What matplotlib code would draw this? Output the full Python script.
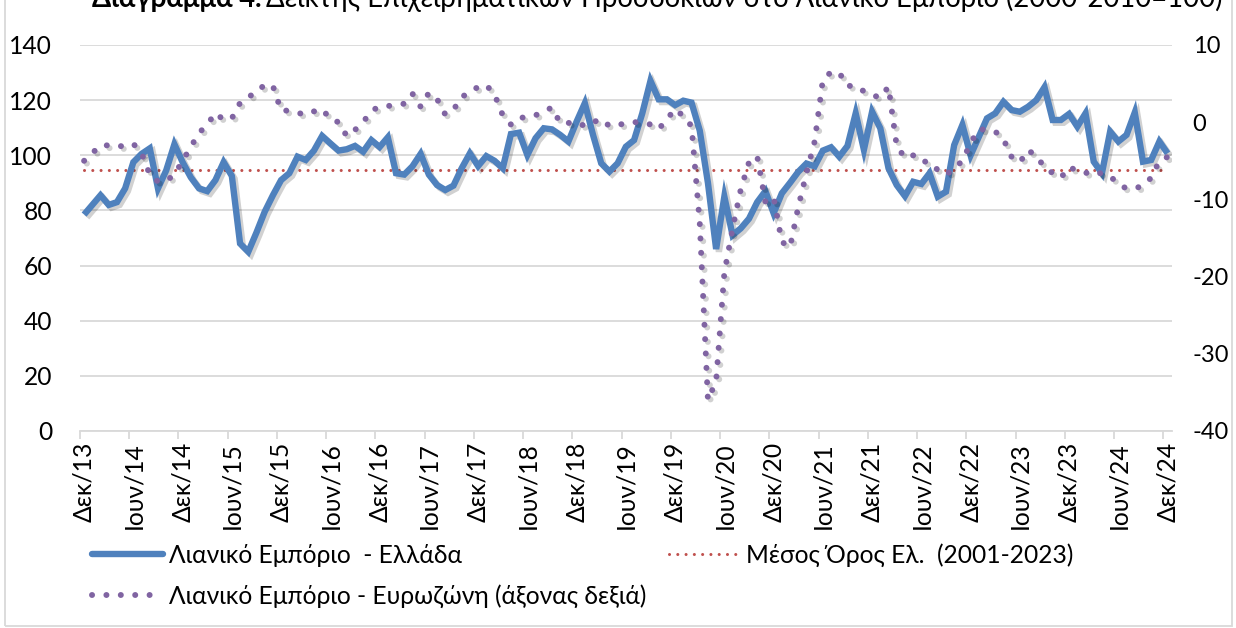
import numpy as np
import matplotlib
matplotlib.use("Agg")
import matplotlib.pyplot as plt
import matplotlib.patheffects as pe
from matplotlib.lines import Line2D
from matplotlib.patches import Rectangle

plt.rcParams['font.family'] = ['Lato', 'DejaVu Sans']

# Greek retail trade confidence (left axis), monthly Dec 2013 - Dec 2024
greece = [78.5, 82, 85.5, 82, 83, 88, 97.5, 100.5, 102.5, 88, 94.5, 104, 97.5,
          92, 88, 87, 91, 97.5, 92.5, 68, 65, 72, 79.5, 85.5, 91,
          93.5, 99.5, 98.3, 101.7, 107, 104.3, 101.7, 102.2, 103.4, 101.3, 105.5, 103,
          106.5, 93.5, 93, 96, 100.5, 93, 89.2, 87.4, 89, 95.3, 100.7, 96.1,
          99.7, 98, 95.3, 107.7, 108.2, 100.1, 106.2, 109.8, 109.4, 107.4, 105, 112.2,
          118.9, 107.4, 97.1, 94.1, 97.1, 103.1, 105.5, 115.2, 127, 120.3, 120.3, 118.2,
          119.8, 119.1, 109, 90, 66, 85, 71, 73.5, 77, 83, 87, 79,
          86.2, 90, 94, 97, 96, 101.7, 102.9, 99.5, 103.4, 115.2, 102, 115.8,
          109.8, 95.3, 89.2, 85.2, 90.4, 89.6, 93.5, 85, 86.8, 103.7, 111, 100,
          106.7, 113.4, 115.2, 119.4, 116.4, 115.8, 117.6, 120, 124.7, 112.8, 112.8, 115,
          110.4, 115.2, 97.7, 93.5, 108.6, 105, 107.4, 115.5, 97.7, 98.3, 105, 100.7]

# Euro area retail trade confidence (right axis)
eurozone = [-5, -4, -3, -3, -3.2, -3, -2.8, -4, -6.8, -7.7, -7.6, -6.8, -5,
            -3.2, -1.4, -0.3, 1.2, 0.3, 0.5, 2.5, 3.3, 3.8, 4.9, 4.7, 1.5,
            1.5, 1.2, 1.0, 1.4, 1.7, 0.4, 0, -1.8, -1.0, 0, 1.5, 2.0,
            2.1, 2.2, 2.4, 3.7, 2.0, 3.8, 3.0, 1.0, 1.6, 3.3, 3.8, 4.6,
            4.8, 3.6, 0.9, -0.3, 0.6, 0.6, 0.9, 1.4, 1.9, -0.1, -0.1, 0,
            -0.5, 0, 0.4, -0.5, -0.4, -0.1, 0, 0, -0.3, -0.9, 0.4, 1.7,
            0.8, -0.5, -13, -36, -33.5, -19.5, -13.8, -8.7, -5.2, -4.4, -10.3, -9.7,
            -15.5, -16.2, -11, -6.6, -2.5, 5.5, 6.5, 6.4, 4.7, 4.7, 4.0, 3.5,
            3.2, 4.6, -3.1, -4.6, -4.3, -4.5, -5.8, -6.1, -6.8, -6.0, -5, -2.7,
            -0.9, -1.0, -1.2, -2.2, -4.5, -5.2, -3.6, -4.4, -5.8, -6.6, -7.2, -5.8,
            -6.3, -6.6, -6.3, -6.7, -7.0, -8.0, -8.6, -8.6, -8.2, -7.2, -5.0, -4.5]

greece_mean = 94.7  # Μέσος Όρος 2001-2023

tick_labels = ['Δεκ/13', 'Ιουν/14', 'Δεκ/14', 'Ιουν/15', 'Δεκ/15', 'Ιουν/16',
               'Δεκ/16', 'Ιουν/17', 'Δεκ/17', 'Ιουν/18', 'Δεκ/18', 'Ιουν/19',
               'Δεκ/19', 'Ιουν/20', 'Δεκ/20', 'Ιουν/21', 'Δεκ/21', 'Ιουν/22',
               'Δεκ/22', 'Ιουν/23', 'Δεκ/23', 'Ιουν/24', 'Δεκ/24']

lbl_gr = 'Λιανικό Εμπόριο  - Ελλάδα'
lbl_ez = 'Λιανικό Εμπόριο - Ευρωζώνη (άξονας δεξιά)'
lbl_mean = 'Μέσος Όρος Ελ.  (2001-2023)'

BLUE = '#4F81BD'
PURPLE = '#8064A2'
RED = '#C0504D'
GRID = '#D9D9D9'
FS = 17.7

W, H = 1236, 628
fig = plt.figure(figsize=(W / 100, H / 100), dpi=100)
ax = fig.add_axes([80 / W, 1 - 431 / H, (1171.7 - 80) / W, 386 / H])
ax2 = ax.twinx()

x = np.arange(len(greece))
shadow = [pe.SimpleLineShadow(offset=(2, -2), shadow_color='k', alpha=0.18), pe.Normal()]

ax.plot(x, [greece_mean] * len(x), color=RED, lw=2.2,
        linestyle=(0, (0.01, 2.7)), dash_capstyle='round', zorder=3)
ax.plot(x, greece, color=BLUE, lw=4.6, solid_joinstyle='miter',
        solid_capstyle='butt', path_effects=shadow, zorder=4)
ax2.plot(x, eurozone, color=PURPLE, lw=4.3, linestyle=(0, (0.01, 2.4)),
         dash_capstyle='round', path_effects=shadow, zorder=4)

ax.set_xlim(-0.5, len(x) - 0.5)
ax.set_ylim(0, 140)
ax.set_yticks(np.arange(0, 141, 20))
ax2.set_ylim(-40, 10)
ax2.set_yticks(np.arange(-40, 11, 10))
# purple series drawn above the blue one, as in the reference
ax2.set_zorder(ax.get_zorder() + 1)
ax2.patch.set_visible(False)

ax.grid(axis='y', color=GRID, lw=1.3)
ax.set_axisbelow(True)
for a in (ax, ax2):
    for s in a.spines.values():
        s.set_visible(False)
ax.spines['bottom'].set_visible(True)
ax.spines['bottom'].set_color(GRID)
ax.spines['bottom'].set_linewidth(1.3)

label_pos = np.arange(0, len(x), 6)
ax.set_xticks(label_pos)
ax.set_xticklabels(tick_labels, rotation=90, fontsize=FS)
ax.set_xticks(label_pos - 0.5, minor=True)
ax.tick_params(axis='x', which='major', length=0, pad=8)
ax.tick_params(axis='x', which='minor', length=6, width=1.3, color=GRID)
ax.tick_params(axis='y', length=0, pad=20, labelsize=FS)
ax2.tick_params(axis='y', length=0, pad=15, labelsize=17)
ax2.set_yticklabels([f'{v:d}' for v in range(-40, 11, 10)])
for t in ax2.get_yticklabels():
    t.set_horizontalalignment('left')

handles = [
    Line2D([], [], color=BLUE, lw=4.6, solid_capstyle='round'),
    Line2D([], [], color=PURPLE, lw=4.3, linestyle=(0, (0.01, 2.4)), dash_capstyle='round'),
    Line2D([], [], color=RED, lw=2.2, linestyle=(0, (0.01, 2.7)), dash_capstyle='round'),
]
leg = fig.legend(handles, [lbl_gr, lbl_ez, lbl_mean], ncol=2, frameon=False,
                 loc='upper left', bbox_to_anchor=(92 / W, 1 - 543 / H),
                 fontsize=FS, handlelength=2.9, handletextpad=0.25,
                 columnspacing=0.9, labelspacing=0.7, borderpad=0, borderaxespad=0)

# title, cut off at the top edge as in the reference
r = fig.canvas.get_renderer()
t1 = fig.text(92 / W, 1 - 7 / H, 'Διάγραμμα 4.', fontsize=19.8, fontweight='bold',
              ha='left', va='baseline')
bb = t1.get_window_extent(r)
fig.text(bb.x1 / W + 5 / W, 1 - 7 / H,
         'Δείκτης Επιχειρηματικών Προσδοκιών στο Λιανικό Εμπόριο (2000-2010=100)',
         fontsize=19.8, ha='left', va='baseline')

fig.patches.append(Rectangle((5 / W, 2 / H), 1227 / W, 1.2, transform=fig.transFigure,
                             fill=False, edgecolor=GRID, lw=1.3))

fig.savefig('out.png', dpi=100)
